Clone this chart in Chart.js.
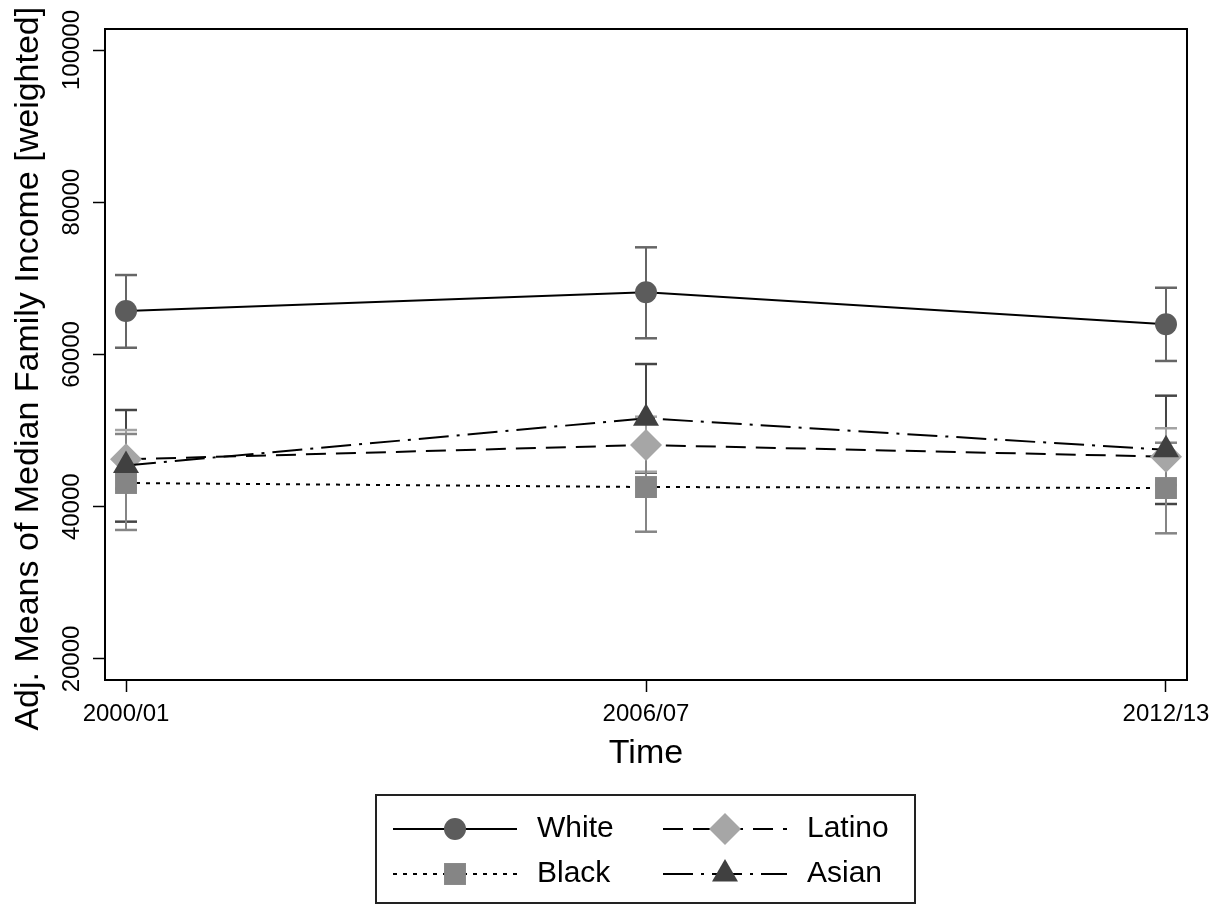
<!DOCTYPE html>
<html>
<head>
<meta charset="utf-8">
<script src="https://cdn.jsdelivr.net/npm/chart.js@4.4.1/dist/chart.umd.min.js"></script>
<style>
  html, body { margin: 0; padding: 0; background: #fff; }
  #wrap { width: 1225px; height: 905px; }
</style>
</head>
<body>
<div id="wrap"><canvas id="incomeChart"></canvas></div>
<script>
// Survey waves (x axis) and y axis ticks
const waves = ['2000/01', '2006/07', '2012/13'];
const yTicks = [20000, 40000, 60000, 80000, 100000];

// Adjusted means by group
const white = [65710, 68170, 63970];
const black = [43120, 42590, 42460];
const latino = [46230, 48110, 46570];
const asian = [45420, 51620, 47480];

// Confidence intervals (lower / upper)
const whiteLo = [60890, 62130, 59150];
const whiteHi = [70440, 74080, 68770];
const blackLo = [36950, 36720, 36510];
const blackHi = [49560, 48310, 48410];
const latinoLo = [42380, 44600, 42860];
const latinoHi = [50080, 51830, 50310];
const asianLo = [38040, 44490, 40360];
const asianHi = [52710, 58750, 54590];

const FONT = '"Liberation Sans", Arial, Helvetica, sans-serif';

function toPoints(vals) {
  return vals.map((v, i) => ({ x: i, y: v }));
}

// each interval is a small vertical segment, separated by a gap
function toBars(lo, hi) {
  const pts = [];
  lo.forEach((l, i) => {
    pts.push({ x: i, y: l }, { x: i, y: hi[i] }, { x: i, y: null });
  });
  return pts;
}

function ciSet(lo, hi, color) {
  return {
    label: '',
    data: toBars(lo, hi),
    borderColor: color,
    borderWidth: 2,
    pointStyle: 'line',
    pointRadius: 11,
    pointBorderColor: color,
    pointBorderWidth: 2.5,
    order: 3
  };
}

function seriesSet(label, vals, color, style, radius, dash, order) {
  return {
    label: label,
    data: toPoints(vals),
    borderColor: '#000',
    borderWidth: 2,
    borderDash: dash,
    pointStyle: style,
    pointRadius: radius,
    pointBackgroundColor: color,
    pointBorderColor: color,
    pointBorderWidth: 0,
    order: order
  };
}

// frame round the plot region
const frame = {
  id: 'frame',
  afterDraw(chart) {
    const { ctx, chartArea: a } = chart;
    ctx.save();
    ctx.strokeStyle = '#000';
    ctx.lineWidth = 2;
    ctx.strokeRect(a.left, a.top, a.right - a.left, a.bottom - a.top);
    ctx.restore();
  }
};

// Stata-like legend: line sample with marker, two columns
const legendBox = {
  id: 'legendBox',
  afterDraw(chart) {
    const { ctx } = chart;
    const ds = chart.data.datasets;
    const find = name => ds.find(d => d.label === name);
    const cells = [
      ['White', 0, 0], ['Latino', 1, 0],
      ['Black', 0, 1], ['Asian', 1, 1]
    ];
    const colX = [393, 663];
    const rowY = [829, 874];
    const sampleW = 124;
    ctx.save();
    ctx.strokeStyle = '#222';
    ctx.lineWidth = 2;
    ctx.strokeRect(376, 795, 539, 108);
    cells.forEach(([name, c, r]) => {
      const d = find(name);
      const x0 = colX[c];
      const y = rowY[r];
      ctx.save();
      ctx.strokeStyle = '#000';
      ctx.lineWidth = 2;
      ctx.setLineDash(d.borderDash || []);
      ctx.beginPath();
      ctx.moveTo(x0, y);
      ctx.lineTo(x0 + sampleW, y);
      ctx.stroke();
      ctx.setLineDash([]);
      ctx.fillStyle = d.pointBackgroundColor;
      ctx.strokeStyle = d.pointBorderColor;
      Chart.helpers.drawPoint(ctx, {
        pointStyle: d.pointStyle, radius: d.pointRadius, borderWidth: 0, rotation: 0
      }, x0 + sampleW / 2, y);
      ctx.restore();
      ctx.fillStyle = '#000';
      ctx.font = '30px ' + FONT;
      ctx.textBaseline = 'middle';
      ctx.textAlign = 'left';
      ctx.fillText(name, x0 + sampleW + 20, y);
    });
    ctx.restore();
  }
};

const incomeChart = new Chart(document.getElementById('incomeChart'), {
  type: 'line',
  data: {
    datasets: [
      ciSet(whiteLo, whiteHi, '#666666'),
      ciSet(blackLo, blackHi, '#858585'),
      ciSet(latinoLo, latinoHi, '#a3a3a3'),
      ciSet(asianLo, asianHi, '#454545'),
      seriesSet('White', white, '#5c5c5c', 'circle', 11, [], 1),
      seriesSet('Black', black, '#858585', 'rect', 15.5, [4, 6], 1),
      seriesSet('Latino', latino, '#a6a6a6', 'rectRot', 16, [20, 10], 1),
      seriesSet('Asian', asian, '#404040', 'triangle', 15, [30, 8, 3, 8], 0)
    ]
  },
  options: {
    responsive: true,
    maintainAspectRatio: false,
    animation: false,
    events: [],
    layout: { padding: { top: 29, right: 38, bottom: 115, left: 0 } },
    plugins: {
      legend: { display: false },
      tooltip: { enabled: false }
    },
    scales: {
      x: {
        type: 'linear',
        min: -0.0404,
        max: 2.0404,
        afterBuildTicks: s => { s.ticks = waves.map((w, i) => ({ value: i })); },
        afterFit: s => { s.height = 110; },
        ticks: {
          callback: v => waves[v],
          autoSkip: false,
          maxRotation: 0,
          padding: 8,
          color: '#000',
          font: { family: FONT, size: 24 }
        },
        grid: {
          drawOnChartArea: false,
          drawTicks: true,
          tickLength: 12,
          tickWidth: 1.5,
          tickColor: '#000'
        },
        border: { display: true, color: '#000', width: 2 },
        title: {
          display: true,
          text: 'Time',
          color: '#000',
          font: { family: FONT, size: 34 },
          padding: { top: 0, bottom: 16 }
        }
      },
      y: {
        min: 17240,
        max: 102760,
        afterBuildTicks: s => { s.ticks = yTicks.map(v => ({ value: v })); },
        afterFit: s => { s.width = 105; },
        ticks: {
          callback: v => String(v),
          autoSkip: false,
          minRotation: 90,
          maxRotation: 90,
          crossAlign: 'center',
          padding: -19,
          color: '#000',
          font: { family: FONT, size: 24 }
        },
        grid: {
          drawOnChartArea: false,
          drawTicks: true,
          tickLength: 12,
          tickWidth: 1.5,
          tickColor: '#000'
        },
        border: { display: true, color: '#000', width: 2 },
        title: {
          display: true,
          // trailing spaces nudge the centred title down to sit like the original
          text: 'Adj. Means of Median Family Income [weighted]   ',
          color: '#000',
          font: { family: FONT, size: 34 },
          padding: { top: 8, bottom: 0 }
        }
      }
    }
  },
  plugins: [frame, legendBox]
});
</script>
</body>
</html>
